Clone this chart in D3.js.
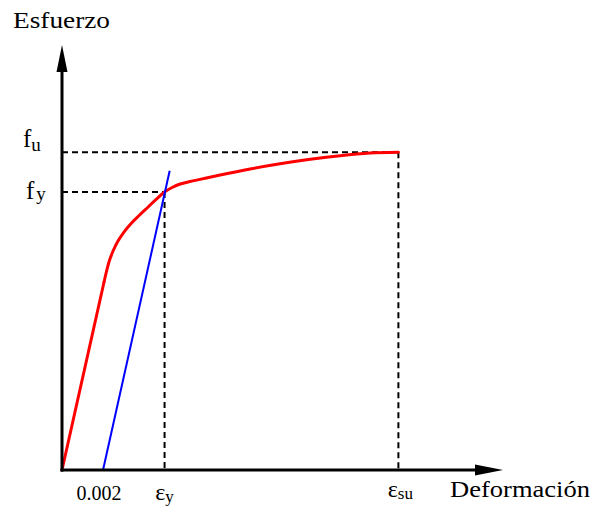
<!DOCTYPE html>
<html><head><meta charset="utf-8">
<script src="https://cdn.jsdelivr.net/npm/d3@7"></script>
<style>body{margin:0;background:#fff} svg{display:block} text{font-family:"Liberation Serif","DejaVu Serif","Times New Roman",serif;}</style>
</head><body><svg id="c" width="594" height="508"></svg>
<script>
// Stress-strain curve (strain in per mille, stress in MPa – schematic)
const strain = [0, 2.05, 2.15, 2.29, 2.49, 2.73, 3.02, 3.37, 3.76, 4.20, 4.63, 5.0, 5.37, 5.76, 6.24, 6.73, 7.71, 9.17, 10.63, 12.10, 13.56, 15.02, 16.4];
const stress = [0, 284, 297.6, 314.2, 330.8, 345.9, 359.5, 372.4, 384.4, 397.3, 410.1, 420, 426.7, 432.0, 435.7, 439.0, 445.6, 454.7, 462.5, 469.3, 474.8, 478.7, 480];
// 0.2% offset line
const offsetStrain = [2.0, 5.25];
const offsetStress = [0, 452];
// characteristic points
const yieldPoint = [5.0, 420];
const ultimatePoint = [16.4, 480];
// tick labels
const xTickValues = [2.0, 5.0, 16.4];
const xTickLabels = [["0.002", ""], ["ε", "y"], ["ε", "su"]];
const yTickValues = [480, 420];
const yTickLabels = [["f", "u"], ["f", "y"]];
const xTitle = "Deformación";
const yTitle = "Esfuerzo";

const svg = d3.select("#c");
const x = d3.scaleLinear().domain([0, 21.5]).range([62, 503]);
const y = d3.scaleLinear().domain([0, 642]).range([470, 45]);

// dashed guide lines
const dash = svg.append("g").attr("stroke", "#000").attr("stroke-width", 2).attr("stroke-dasharray", "6,4").attr("fill", "none");
[yieldPoint, ultimatePoint].forEach(p => {
  dash.append("line").attr("x1", x(0)).attr("x2", x(p[0])).attr("y1", y(p[1])).attr("y2", y(p[1]));
  dash.append("line").attr("x1", x(p[0])).attr("x2", x(p[0])).attr("y1", y(p[1])).attr("y2", y(0));
});

// red curve
const pts = strain.map((s, i) => [s, stress[i]]);
const lineLin = d3.line().x(d => x(d[0])).y(d => y(d[1]));
const lineCurve = d3.line().x(d => x(d[0])).y(d => y(d[1])).curve(d3.curveMonotoneX);
svg.append("path").attr("d", lineLin(pts.slice(0, 2))).attr("fill", "none").attr("stroke", "#ff0000").attr("stroke-width", 3).attr("stroke-linecap", "round");
svg.append("path").attr("d", lineCurve(pts.slice(1))).attr("fill", "none").attr("stroke", "#ff0000").attr("stroke-width", 3).attr("stroke-linecap", "round");

// blue offset line
svg.append("path").attr("d", lineLin(offsetStrain.map((s, i) => [s, offsetStress[i]])))
  .attr("fill", "none").attr("stroke", "#0000ff").attr("stroke-width", 2);

// axes with arrows
const ax = svg.append("g");
ax.append("line").attr("x1", x(0)).attr("x2", x(0)).attr("y1", y(0) + 1.5).attr("y2", 70).attr("stroke", "#000").attr("stroke-width", 3);
ax.append("path").attr("d", `M${x(0)},45 L${x(0) - 5.5},72 L${x(0) + 5.5},72 Z`).attr("fill", "#000");
ax.append("line").attr("x1", x(0) - 1.5).attr("x2", 477).attr("y1", y(0)).attr("y2", y(0)).attr("stroke", "#000").attr("stroke-width", 3);
ax.append("path").attr("d", `M503,${y(0)} L475,${y(0) - 5.5} L475,${y(0) + 5.5} Z`).attr("fill", "#000");

// x tick labels
const xDx = [-4, 0, 2];
const xBase = [500, 500, 497];
xTickValues.forEach((v, i) => {
  const t = svg.append("text").attr("x", x(v) + xDx[i]).attr("y", xBase[i]).attr("text-anchor", "middle").attr("fill", "#000");
  if (i === 0) {
    t.attr("font-size", 20).text(xTickLabels[i][0]);
  } else {
    t.append("tspan").attr("font-size", 24).text(xTickLabels[i][0]);
    t.append("tspan").attr("font-size", 17).attr("dy", 2).text(xTickLabels[i][1]);
  }
});

// y tick labels
const yX = [23, 26];
const yDy = [-5, 7];
yTickValues.forEach((v, i) => {
  const t = svg.append("text").attr("x", yX[i]).attr("y", y(v) + yDy[i]).attr("fill", "#000");
  t.append("tspan").attr("font-size", 25).text(yTickLabels[i][0]);
  t.append("tspan").attr("font-size", 19).attr("dx", i === 1 ? 2 : 0).attr("dy", i === 1 ? 1 : 4).text(yTickLabels[i][1]);
});

// titles
svg.append("text").attr("x", 13).attr("y", 28).attr("font-size", 24)
  .attr("textLength", 97).attr("lengthAdjust", "spacingAndGlyphs").text(yTitle);
svg.append("text").attr("x", 450).attr("y", 497).attr("font-size", 24)
  .attr("textLength", 140).attr("lengthAdjust", "spacingAndGlyphs").text(xTitle);
</script></body></html>
